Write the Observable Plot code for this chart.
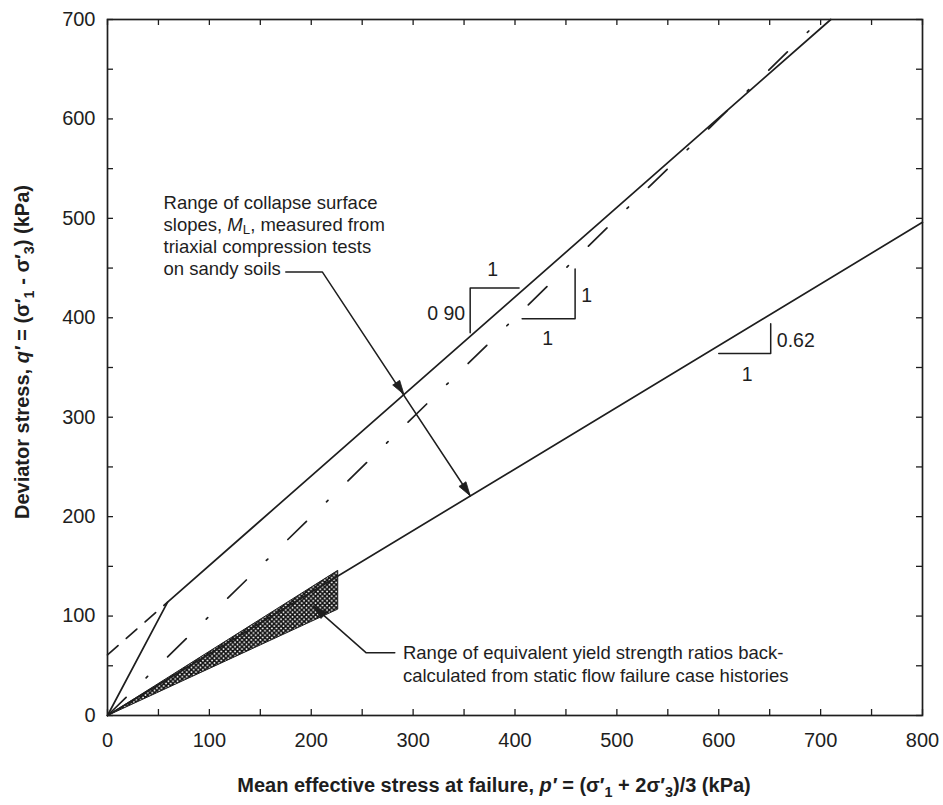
<!DOCTYPE html>
<html>
<head>
<meta charset="utf-8">
<script src="https://cdn.jsdelivr.net/npm/d3@7"></script>
<script src="https://cdn.jsdelivr.net/npm/@observablehq/plot@0.6"></script>
<style>
  body { margin: 0; background: #fff; }
  #chart svg { font-family: "Liberation Sans", Arial, sans-serif; }
</style>
</head>
<body>
<div id="chart"></div>
<script>
// Axis ticks (labelled every 100 kPa, inward tick marks every 50 kPa)
const pTicks = [0, 100, 200, 300, 400, 500, 600, 700, 800];
const qTicks = [0, 100, 200, 300, 400, 500, 600, 700];
const pMinor = [0, 50, 100, 150, 200, 250, 300, 350, 400, 450, 500, 550, 600, 650, 700, 750, 800];
const qMinor = [0, 50, 100, 150, 200, 250, 300, 350, 400, 450, 500, 550, 600, 650, 700];

// Upper collapse surface (solid, bilinear) and its dashed extension to the q axis
const upperP = [0, 59, 710];
const upperQ = [0, 114, 700];
const dashP = [0, 59];
const dashQ = [61, 114];

// Collapse surface of slope 1 (dash-dot)
const midP = [0, 700];
const midQ = [0, 700];

// Lower collapse surface, slope 0.62
const lowerP = [0, 800];
const lowerQ = [0, 496];

// Range of equivalent yield strength ratios (hatched wedge)
const wedgeP = [0, 226, 226, 0];
const wedgeQ = [0, 146, 107, 0];

// Slope triangles: [p, q] vertices of each open leg pair
const tri090 = [[356, 385], [356, 430], [404, 430]];
const tri100 = [[407, 399], [459, 399], [459, 449]];
const tri062 = [[600, 364], [651, 364], [651, 394]];

// Slope labels, grouped by how they sit against their leg
const slopeLabelsMid = [
  {p: 378, q: 448, text: "1"},
  {p: 432, q: 379, text: "1"},
  {p: 628, q: 343, text: "1"}
];
const slopeLabelsEnd = [
  {p: 351, q: 404, text: "0 90"}
];
const slopeLabelsStart = [
  {p: 465, q: 422, text: "1"},
  {p: 657, q: 377, text: "0.62"}
];

// Annotation: range of collapse surface slopes
const note1Lines = [
  "Range of collapse surface",
  "slopes, M_L, measured from",
  "triaxial compression tests",
  "on sandy soils"
];
const note1P = 55;
const note1Q = [515, 493, 471, 449];
const leader1P = [175, 211, 356];
const leader1Q = [446, 446, 221];
const head1Tips = [[291, 323], [356, 221]];

// Annotation: range of equivalent yield strength ratios
const note2Lines = [
  "Range of equivalent yield strength ratios back-",
  "calculated from static flow failure case histories"
];
const note2P = 290;
const note2Q = [63, 40];
const leader2P = [202, 254, 282];
const leader2Q = [110, 63, 63];
const head2Tips = [[202, 110]];

// ---- layout ----
const W = 943, H = 805;
const mL = 107, mR = 21, mT = 19, mB = 90;
const kx = (W - mL - mR) / 800;   // px per kPa along p'
const ky = (H - mT - mB) / 700;   // px per kPa along q'
const tickLenP = 6 / kx, tickLenQ = 6 / ky;

const pts = (P, Q) => P.map((p, i) => ({p, q: Q[i]}));
const legs = (tri) => tri.map(([p, q]) => ({p, q}));

// filled arrowhead (in data units) with tip at `tip`, pointing away from `from`
function head(tip, from, id, len = 14, half = 4.2) {
  const dx = (tip[0] - from[0]) * kx, dy = (tip[1] - from[1]) * ky;
  const n = Math.hypot(dx, dy), ux = dx / n, uy = dy / n;
  const bx = -ux * len, by = -uy * len;
  const corner = (s) => ({id, p: tip[0] + (bx - uy * half * s) / kx, q: tip[1] + (by + ux * half * s) / ky});
  return [{id, p: tip[0], q: tip[1]}, corner(1), corner(-1), {id, p: tip[0], q: tip[1]}];
}
const heads = [
  ...head(head1Tips[0], [leader1P[1], leader1Q[1]], "a"),
  ...head(head1Tips[1], [leader1P[1], leader1Q[1]], "b"),
  ...head(head2Tips[0], [leader2P[1], leader2Q[1]], "c")
];

const ink = "#1e1e1e";
const slopeFont = 19.5;

const plot = Plot.plot({
  width: W, height: H,
  marginLeft: mL, marginRight: mR, marginTop: mT, marginBottom: mB,
  style: {fontSize: "20px", color: ink, background: "#fff"},
  x: {domain: [0, 800], ticks: pTicks, tickSize: 0, tickPadding: 17, label: null},
  y: {domain: [0, 700], ticks: qTicks, tickSize: 0, tickPadding: 12, label: null},
  marks: [
    // inward tick marks on all four sides
    Plot.ruleX(pMinor, {x: d => d, y1: 0, y2: tickLenQ, stroke: ink, strokeWidth: 1.3}),
    Plot.ruleX(pMinor, {x: d => d, y1: 700, y2: 700 - tickLenQ, stroke: ink, strokeWidth: 1.3}),
    Plot.ruleY(qMinor, {y: d => d, x1: 0, x2: tickLenP, stroke: ink, strokeWidth: 1.3}),
    Plot.ruleY(qMinor, {y: d => d, x1: 800, x2: 800 - tickLenP, stroke: ink, strokeWidth: 1.3}),

    // hatched wedge
    Plot.line(pts(wedgeP, wedgeQ), {x: "p", y: "q", fill: "url(#xhatch)", stroke: ink, strokeWidth: 1}),

    // collapse surfaces
    Plot.line(pts(upperP, upperQ), {x: "p", y: "q", stroke: ink, strokeWidth: 1.7}),
    Plot.line(pts(dashP, dashQ), {x: "p", y: "q", stroke: ink, strokeWidth: 1.7, strokeDasharray: "14,11"}),
    Plot.line(pts(midP, midQ), {x: "p", y: "q", stroke: ink, strokeWidth: 1.7, strokeDasharray: "26,28,2,28"}),
    Plot.line(pts(lowerP, lowerQ), {x: "p", y: "q", stroke: ink, strokeWidth: 1.7}),

    // slope triangles and their labels
    Plot.line(legs(tri090), {x: "p", y: "q", stroke: ink, strokeWidth: 1.5}),
    Plot.line(legs(tri100), {x: "p", y: "q", stroke: ink, strokeWidth: 1.5}),
    Plot.line(legs(tri062), {x: "p", y: "q", stroke: ink, strokeWidth: 1.5}),
    Plot.text(slopeLabelsMid, {x: "p", y: "q", text: "text", textAnchor: "middle", fontSize: slopeFont, fill: ink}),
    Plot.text(slopeLabelsEnd, {x: "p", y: "q", text: "text", textAnchor: "end", fontSize: slopeFont, fill: ink}),
    Plot.text(slopeLabelsStart, {x: "p", y: "q", text: "text", textAnchor: "start", fontSize: slopeFont, fill: ink}),

    // annotation leaders and arrowheads
    Plot.line(pts(leader1P, leader1Q), {x: "p", y: "q", stroke: ink, strokeWidth: 1.5}),
    Plot.line(pts(leader2P, leader2Q), {x: "p", y: "q", stroke: ink, strokeWidth: 1.5}),
    Plot.line(heads, {x: "p", y: "q", z: "id", fill: ink, stroke: ink, strokeWidth: 0.8}),

    // annotation text
    Plot.text(note1Lines, {x: () => note1P, y: (d, i) => note1Q[i], text: d => d, textAnchor: "start", fontSize: 18.5, fill: ink}),
    Plot.text(note2Lines, {x: () => note2P, y: (d, i) => note2Q[i], text: d => d, textAnchor: "start", fontSize: 18.5, fill: ink}),

    Plot.frame({stroke: ink, strokeWidth: 1.7})
  ]
});

const svg = d3.select(plot);

// cross-hatch pattern for the wedge
const defs = svg.insert("defs", ":first-child");
const pat = defs.append("pattern")
  .attr("id", "xhatch").attr("patternUnits", "userSpaceOnUse")
  .attr("width", 4.6).attr("height", 4.6);
pat.append("rect").attr("width", 4.6).attr("height", 4.6).attr("fill", "#fff");
pat.append("path").attr("d", "M0,0L4.6,4.6M4.6,0L0,4.6")
  .attr("stroke", "#111").attr("stroke-width", 1.6);

// rich text helper: parts = [{t, italic, sub}]
function rich(textSel, parts, drop = 5) {
  textSel.text(null);
  let shifted = false;
  for (const part of parts) {
    const ts = textSel.append("tspan").text(part.t);
    if (part.italic) ts.attr("font-style", "italic");
    if (part.sub) {
      ts.attr("font-size", "0.72em").attr("dy", drop);
      shifted = true;
    } else if (shifted) {
      ts.attr("dy", -drop);
      shifted = false;
    }
  }
}

// italic M with subscript L in the annotation
svg.selectAll("text").filter(function() { return this.textContent === "slopes, M_L, measured from"; })
  .each(function() {
    rich(d3.select(this), [
      {t: "slopes, "}, {t: "M", italic: true}, {t: "L", sub: true}, {t: ", measured from"}
    ], 3);
  });

// axis titles
const xTitle = svg.append("text")
  .attr("x", 494).attr("y", 792)
  .attr("text-anchor", "middle").attr("font-weight", "bold").attr("font-size", 20).attr("fill", ink);
rich(xTitle, [
  {t: "Mean effective stress at failure, "}, {t: "p\u2032", italic: true},
  {t: " = (\u03c3\u2032"}, {t: "1", sub: true}, {t: " + 2\u03c3\u2032"}, {t: "3", sub: true}, {t: ")/3 (kPa)"}
]);

const yTitle = svg.append("text")
  .attr("transform", `translate(29,352) rotate(-90)`)
  .attr("text-anchor", "middle").attr("font-weight", "bold").attr("font-size", 20).attr("fill", ink);
rich(yTitle, [
  {t: "Deviator stress, "}, {t: "q\u2032", italic: true},
  {t: " = (\u03c3\u2032"}, {t: "1", sub: true}, {t: " - \u03c3\u2032"}, {t: "3", sub: true}, {t: ") (kPa)"}
]);

document.getElementById("chart").appendChild(plot);
</script>
</body>
</html>
